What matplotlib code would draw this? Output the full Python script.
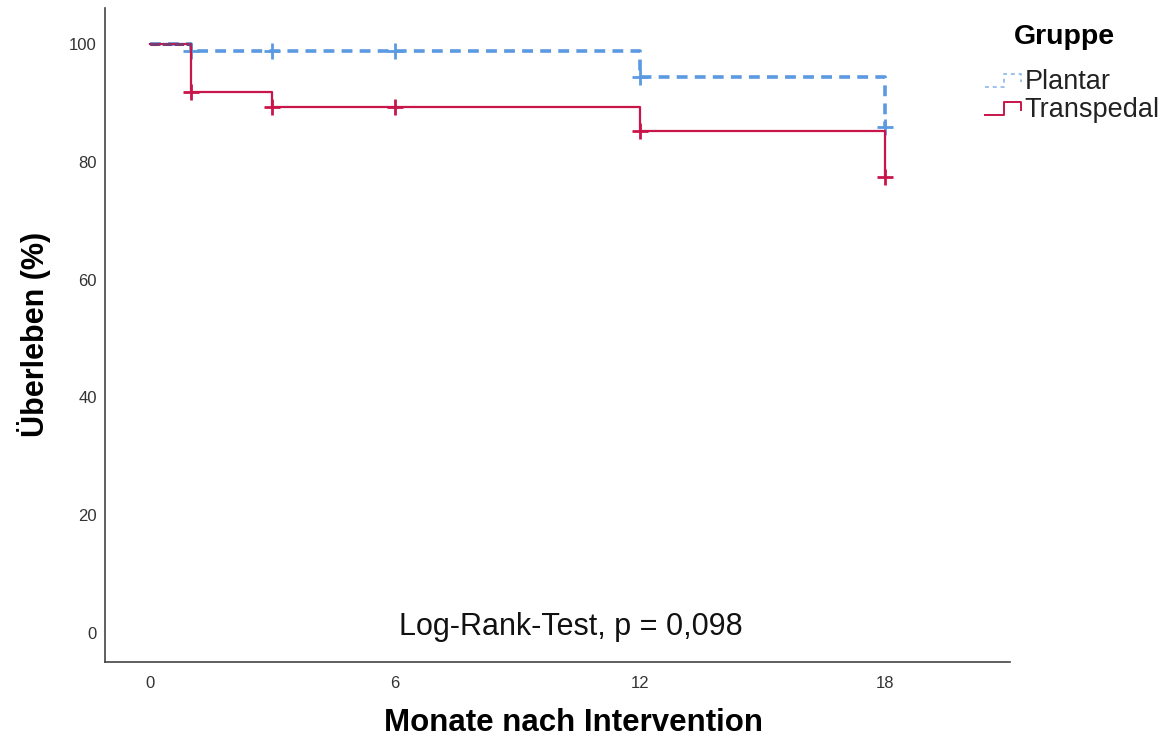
import matplotlib
matplotlib.use("Agg")
import matplotlib.pyplot as plt
from matplotlib.legend_handler import HandlerBase
from matplotlib.lines import Line2D

plt.rcParams["font.family"] = ["Liberation Sans", "DejaVu Sans"]

# --------------------
# Kaplan-Meier steps (months, survival %)
plantar_t = [0, 1, 12, 18]
plantar_s = [100, 98.8, 94.4, 85.9]
plantar_cens_t = [1, 3, 6, 12, 18]
plantar_cens_s = [98.8, 98.8, 98.8, 94.4, 85.9]

trans_t = [0, 1, 3, 12, 18]
trans_s = [100, 91.9, 89.3, 85.3, 77.4]
trans_cens_t = [1, 3, 6, 12, 18]
trans_cens_s = [91.9, 89.3, 89.3, 85.3, 77.4]

x_ticks = [0, 6, 12, 18]
y_ticks = [0, 20, 40, 60, 80, 100]

blue = "#5b9ae0"
red = "#c8164a"


class StepHandler(HandlerBase):
    def __init__(self, color, ls, alpha = 1.0):
        super().__init__()
        self.color = color
        self.ls = ls
        self.alpha = alpha

    def create_artists(self, legend, orig_handle, xdescent, ydescent, width, height, fontsize, trans):
        xs = [0, width * 0.5, width * 0.5, width * 0.95, width * 0.95]
        ys = [height * 0.1, height * 0.1, height * 0.75, height * 0.75, height * 0.35]
        xs = [x - xdescent for x in xs]
        ys = [y - ydescent for y in ys]
        ln = Line2D(xs, ys, color = self.color, linestyle = self.ls, linewidth = 1.4,
                    alpha = self.alpha, transform = trans)
        return [ln]


# --------------------

fig = plt.figure(figsize = (11.65, 7.38), dpi = 100)
ax = fig.add_axes([0.0901, 0.103, 0.7769, 0.886])

h1, = ax.step(plantar_t + [18], plantar_s + [plantar_s[-1]], where = "post", color = blue,
              linestyle = (0, (3, 2)), linewidth = 2.6, label = "Plantar")
ax.plot(plantar_cens_t, plantar_cens_s, linestyle = "none", marker = "+", color = blue,
        markersize = 11, markeredgewidth = 2)

h2, = ax.step(trans_t + [18], trans_s + [trans_s[-1]], where = "post", color = red,
              linewidth = 1.6, label = "Transpedal")
ax.plot(trans_cens_t, trans_cens_s, linestyle = "none", marker = "+", color = red,
        markersize = 11, markeredgewidth = 2)

# overlapping start segment looks dark/purple
ax.plot([0, 1], [100, 100], color = "#7a3a70", linestyle = (0, (3, 1)), linewidth = 2.2)

ax.set_xlim(-1.1, 21.06)
ax.set_ylim(-4.9, 106.1)
ax.set_xticks(x_ticks)
ax.set_yticks(y_ticks)
ax.tick_params(length = 0, labelsize = 12, colors = "#333333")
ax.tick_params(axis = "x", pad = 10)
ax.tick_params(axis = "y", pad = 6)
for s in ["top", "right"]:
    ax.spines[s].set_visible(False)
for s in ["left", "bottom"]:
    ax.spines[s].set_color("#444444")
    ax.spines[s].set_linewidth(1.2)

# axis titles placed in figure coords
fig.text(574 / 1165, 7 / 738, "Monate nach Intervention", fontsize = 22.5, fontweight = "bold",
         ha = "center", va = "baseline")
fig.text(34 / 1165, (738 - 334) / 738, "Überleben (%)", fontsize = 22, fontweight = "bold",
         rotation = 90, ha = "center", va = "center")

ax.text(10.31, -0.34, "Log-Rank-Test, p = 0,098", fontsize = 22, ha = "center", va = "baseline",
        color = "#111111")

# legend title drawn separately so its gap to the entries can be set
fig.text(1064 / 1165, (738 - 37) / 738, "Gruppe", fontsize = 20.5, fontweight = "bold",
         ha = "center", va = "center")
leg = fig.legend([h1, h2], ["Plantar", "Transpedal"],
                 loc = "upper left", bbox_to_anchor = (0.8455, 0.907), frameon = False,
                 fontsize = 19.5, handlelength = 1.4, handletextpad = 0.07, labelspacing = 0.07,
                 borderpad = 0, borderaxespad = 0,
                 handler_map = {h1: StepHandler(blue, (0, (2, 2)), 0.6), h2: StepHandler(red, "-")})
for t in leg.get_texts():
    t.set_color("#222222")

plt.savefig("out.png", dpi = 100)
